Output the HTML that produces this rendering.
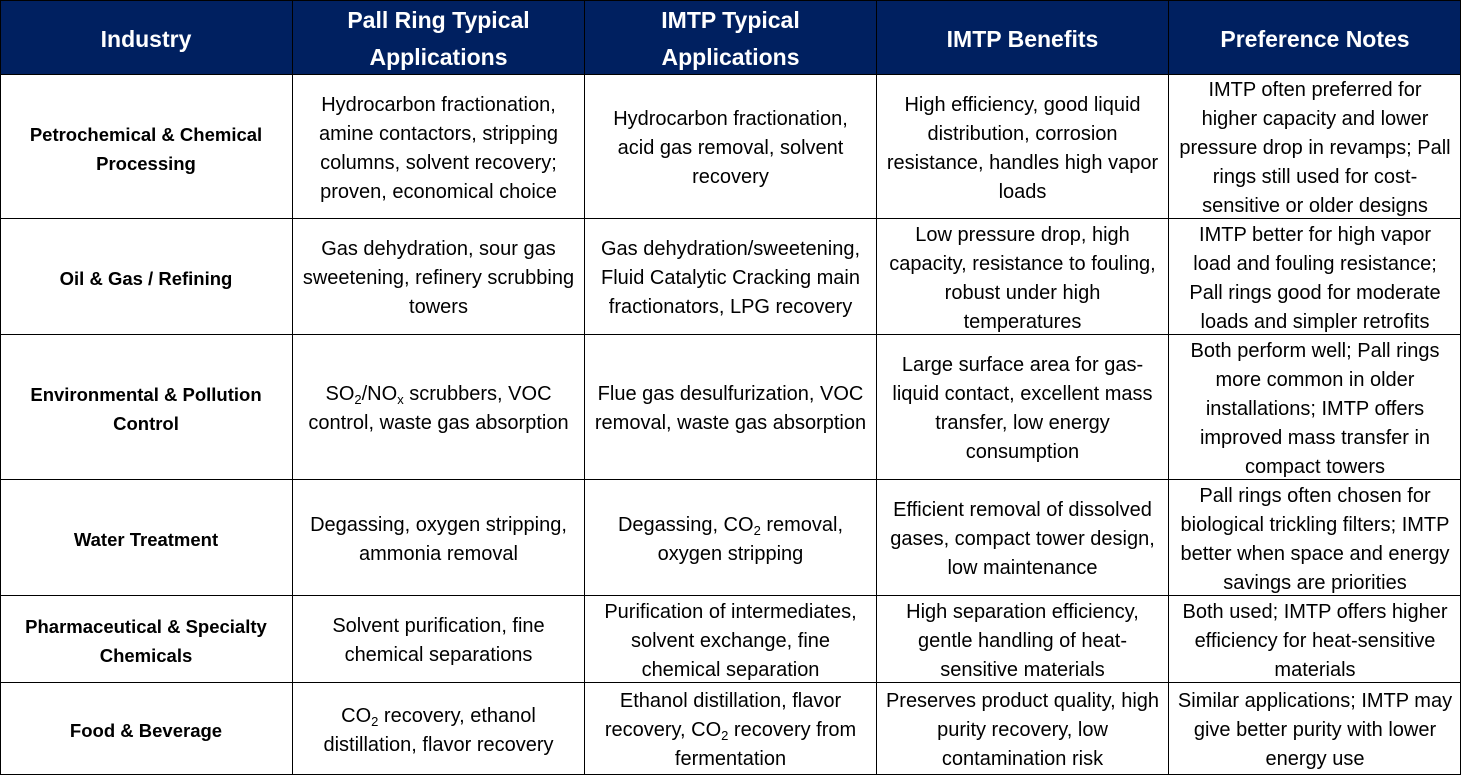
<!DOCTYPE html>
<html><head><meta charset="utf-8"><style>
html,body{margin:0;padding:0;background:#fff;width:1461px;height:775px;overflow:hidden;position:relative;}
.c{position:absolute;display:flex;align-items:center;justify-content:center;text-align:center;white-space:nowrap;font:20px/29px "Liberation Sans",sans-serif;color:#000;}
.c>div{display:block;position:relative;top:2px;}
.h{background:#002060;color:#fff;font:bold 23px/37px "Liberation Sans",sans-serif;}
.i{font-weight:bold;font-size:18.5px;}
.v{position:absolute;top:0;width:1px;height:775px;background:#000;}
.hl{position:absolute;left:0;height:1px;width:1461px;background:#000;}
sub{font-size:13px;line-height:0;vertical-align:-4px;}
</style></head><body>
<div class="c h" style="left:0;top:0;width:1461px;height:74px"></div>
<div class="c h" style="left:0;top:0;width:292px;height:74px"><div>Industry</div></div>
<div class="c h" style="left:293px;top:0;width:291px;height:74px"><div>Pall Ring Typical<br>Applications</div></div>
<div class="c h" style="left:585px;top:0;width:291px;height:74px"><div>IMTP Typical<br>Applications</div></div>
<div class="c h" style="left:877px;top:0;width:291px;height:74px"><div>IMTP Benefits</div></div>
<div class="c h" style="left:1169px;top:0;width:292px;height:74px"><div>Preference Notes</div></div>

<div class="c i" style="left:0;top:75px;width:292px;height:143px"><div>Petrochemical &amp; Chemical<br>Processing</div></div>
<div class="c" style="left:293px;top:75px;width:291px;height:143px"><div>Hydrocarbon fractionation,<br>amine contactors, stripping<br>columns, solvent recovery;<br>proven, economical choice</div></div>
<div class="c" style="left:585px;top:75px;width:291px;height:143px"><div>Hydrocarbon fractionation,<br>acid gas removal, solvent<br>recovery</div></div>
<div class="c" style="left:877px;top:75px;width:291px;height:143px"><div>High efficiency, good liquid<br>distribution, corrosion<br>resistance, handles high vapor<br>loads</div></div>
<div class="c" style="left:1169px;top:75px;width:292px;height:143px"><div>IMTP often preferred for<br>higher capacity and lower<br>pressure drop in revamps; Pall<br>rings still used for cost-<br>sensitive or older designs</div></div>

<div class="c i" style="left:0;top:219px;width:292px;height:115px"><div>Oil &amp; Gas / Refining</div></div>
<div class="c" style="left:293px;top:219px;width:291px;height:115px"><div>Gas dehydration, sour gas<br>sweetening, refinery scrubbing<br>towers</div></div>
<div class="c" style="left:585px;top:219px;width:291px;height:115px"><div>Gas dehydration/sweetening,<br>Fluid Catalytic Cracking main<br>fractionators, LPG recovery</div></div>
<div class="c" style="left:877px;top:219px;width:291px;height:115px"><div>Low pressure drop, high<br>capacity, resistance to fouling,<br>robust under high<br>temperatures</div></div>
<div class="c" style="left:1169px;top:219px;width:292px;height:115px"><div>IMTP better for high vapor<br>load and fouling resistance;<br>Pall rings good for moderate<br>loads and simpler retrofits</div></div>

<div class="c i" style="left:0;top:335px;width:292px;height:144px"><div>Environmental &amp; Pollution<br>Control</div></div>
<div class="c" style="left:293px;top:335px;width:291px;height:144px"><div>SO<sub>2</sub>/NO<sub>x</sub> scrubbers, VOC<br>control, waste gas absorption</div></div>
<div class="c" style="left:585px;top:335px;width:291px;height:144px"><div>Flue gas desulfurization, VOC<br>removal, waste gas absorption</div></div>
<div class="c" style="left:877px;top:335px;width:291px;height:144px"><div>Large surface area for gas-<br>liquid contact, excellent mass<br>transfer, low energy<br>consumption</div></div>
<div class="c" style="left:1169px;top:335px;width:292px;height:144px"><div>Both perform well; Pall rings<br>more common in older<br>installations; IMTP offers<br>improved mass transfer in<br>compact towers</div></div>

<div class="c i" style="left:0;top:480px;width:292px;height:115px"><div>Water Treatment</div></div>
<div class="c" style="left:293px;top:480px;width:291px;height:115px"><div>Degassing, oxygen stripping,<br>ammonia removal</div></div>
<div class="c" style="left:585px;top:480px;width:291px;height:115px"><div>Degassing, CO<sub>2</sub> removal,<br>oxygen stripping</div></div>
<div class="c" style="left:877px;top:480px;width:291px;height:115px"><div>Efficient removal of dissolved<br>gases, compact tower design,<br>low maintenance</div></div>
<div class="c" style="left:1169px;top:480px;width:292px;height:115px"><div>Pall rings often chosen for<br>biological trickling filters; IMTP<br>better when space and energy<br>savings are priorities</div></div>

<div class="c i" style="left:0;top:596px;width:292px;height:86px"><div>Pharmaceutical &amp; Specialty<br>Chemicals</div></div>
<div class="c" style="left:293px;top:596px;width:291px;height:86px"><div>Solvent purification, fine<br>chemical separations</div></div>
<div class="c" style="left:585px;top:596px;width:291px;height:86px"><div>Purification of intermediates,<br>solvent exchange, fine<br>chemical separation</div></div>
<div class="c" style="left:877px;top:596px;width:291px;height:86px"><div>High separation efficiency,<br>gentle handling of heat-<br>sensitive materials</div></div>
<div class="c" style="left:1169px;top:596px;width:292px;height:86px"><div>Both used; IMTP offers higher<br>efficiency for heat-sensitive<br>materials</div></div>

<div class="c i" style="left:0;top:683px;width:292px;height:91px"><div>Food &amp; Beverage</div></div>
<div class="c" style="left:293px;top:683px;width:291px;height:91px"><div>CO<sub>2</sub> recovery, ethanol<br>distillation, flavor recovery</div></div>
<div class="c" style="left:585px;top:683px;width:291px;height:91px"><div>Ethanol distillation, flavor<br>recovery, CO<sub>2</sub> recovery from<br>fermentation</div></div>
<div class="c" style="left:877px;top:683px;width:291px;height:91px"><div>Preserves product quality, high<br>purity recovery, low<br>contamination risk</div></div>
<div class="c" style="left:1169px;top:683px;width:292px;height:91px"><div>Similar applications; IMTP may<br>give better purity with lower<br>energy use</div></div>

<div class="v" style="left:0"></div>
<div class="v" style="left:292px"></div>
<div class="v" style="left:584px"></div>
<div class="v" style="left:876px"></div>
<div class="v" style="left:1168px"></div>
<div class="v" style="left:1460px"></div>
<div class="hl" style="top:0"></div>
<div class="hl" style="top:74px"></div>
<div class="hl" style="top:218px"></div>
<div class="hl" style="top:334px"></div>
<div class="hl" style="top:479px"></div>
<div class="hl" style="top:595px"></div>
<div class="hl" style="top:682px"></div>
<div class="hl" style="top:774px"></div>
</body></html>
